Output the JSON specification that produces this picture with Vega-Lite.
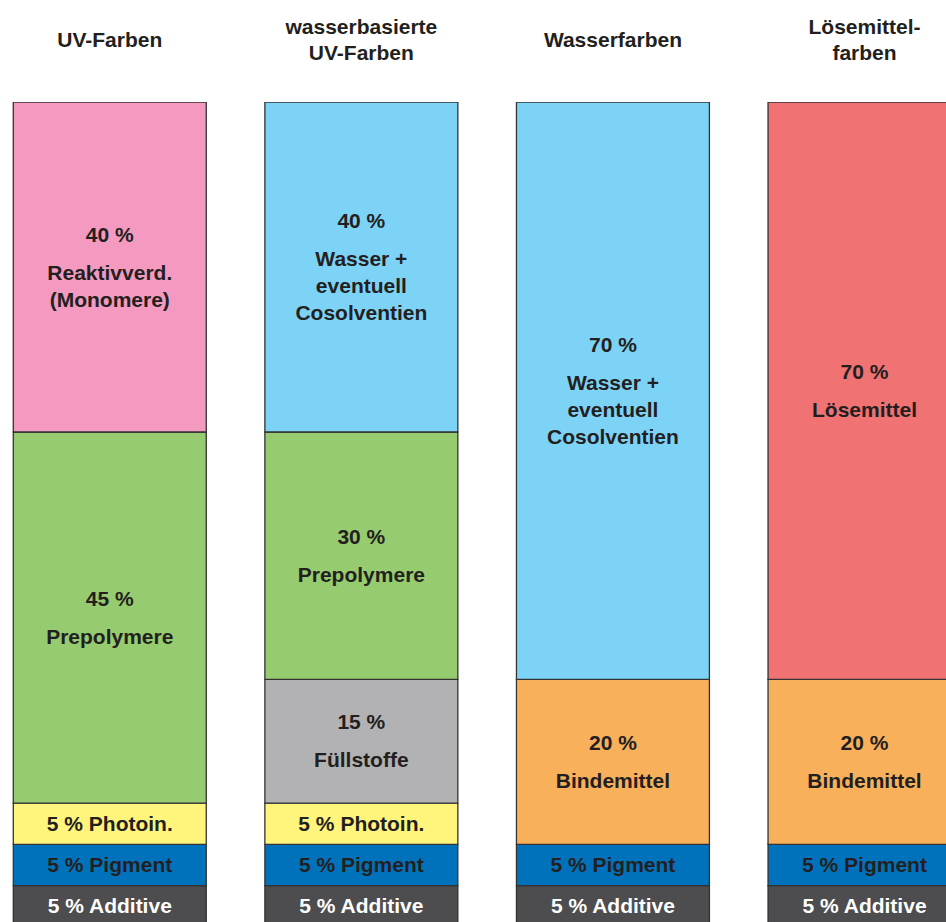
{
  "$schema": "https://vega.github.io/schema/vega-lite/v6.json",
  "autosize": "none",
  "padding": {"top": 102, "left": 0, "right": 0, "bottom": 0},
  "width": 946,
  "height": 820,
  "background": "white",
  "config": {"view": {"stroke": null}, "font": "Liberation Sans"},
  "data": {"values": [
    {"ink": "UV-Farben", "comp": "Additive", "value": 5, "order": 1, "pct": "5 % Additive", "name": null},
    {"ink": "UV-Farben", "comp": "Pigment", "value": 5, "order": 2, "pct": "5 % Pigment", "name": null},
    {"ink": "UV-Farben", "comp": "Photoinitiator", "value": 5, "order": 3, "pct": "5 % Photoin.", "name": null},
    {"ink": "UV-Farben", "comp": "Prepolymere", "value": 45, "order": 4, "pct": "45 %", "name": "Prepolymere"},
    {"ink": "UV-Farben", "comp": "Reaktivverdünner", "value": 40, "order": 5, "pct": "40 %", "name": "Reaktivverd.\n(Monomere)"},
    {"ink": "wasserbasierte UV-Farben", "comp": "Additive", "value": 5, "order": 1, "pct": "5 % Additive", "name": null},
    {"ink": "wasserbasierte UV-Farben", "comp": "Pigment", "value": 5, "order": 2, "pct": "5 % Pigment", "name": null},
    {"ink": "wasserbasierte UV-Farben", "comp": "Photoinitiator", "value": 5, "order": 3, "pct": "5 % Photoin.", "name": null},
    {"ink": "wasserbasierte UV-Farben", "comp": "Füllstoffe", "value": 15, "order": 4, "pct": "15 %", "name": "Füllstoffe"},
    {"ink": "wasserbasierte UV-Farben", "comp": "Prepolymere", "value": 30, "order": 5, "pct": "30 %", "name": "Prepolymere"},
    {"ink": "wasserbasierte UV-Farben", "comp": "Wasser", "value": 40, "order": 6, "pct": "40 %", "name": "Wasser +\neventuell\nCosolventien"},
    {"ink": "Wasserfarben", "comp": "Additive", "value": 5, "order": 1, "pct": "5 % Additive", "name": null},
    {"ink": "Wasserfarben", "comp": "Pigment", "value": 5, "order": 2, "pct": "5 % Pigment", "name": null},
    {"ink": "Wasserfarben", "comp": "Bindemittel", "value": 20, "order": 3, "pct": "20 %", "name": "Bindemittel"},
    {"ink": "Wasserfarben", "comp": "Wasser", "value": 70, "order": 4, "pct": "70 %", "name": "Wasser +\neventuell\nCosolventien"},
    {"ink": "Lösemittel- farben", "comp": "Additive", "value": 5, "order": 1, "pct": "5 % Additive", "name": null},
    {"ink": "Lösemittel- farben", "comp": "Pigment", "value": 5, "order": 2, "pct": "5 % Pigment", "name": null},
    {"ink": "Lösemittel- farben", "comp": "Bindemittel", "value": 20, "order": 3, "pct": "20 %", "name": "Bindemittel"},
    {"ink": "Lösemittel- farben", "comp": "Lösemittel", "value": 70, "order": 4, "pct": "70 %", "name": "Lösemittel"}
  ]},
  "transform": [
    {"stack": "value", "groupby": ["ink"], "sort": [{"field": "order", "order": "ascending"}], "as": ["v0", "v1"]}
  ],
  "encoding": {
    "x": {
      "field": "ink", "type": "nominal",
      "sort": ["UV-Farben", "wasserbasierte UV-Farben", "Wasserfarben", "Lösemittel- farben"],
      "scale": {"range": [13.3, 961], "paddingInner": 0.233, "paddingOuter": 0},
      "axis": {
        "orient": "top", "title": null, "domain": false, "ticks": false, "tickSize": 0, "grid": false,
        "labelPadding": 62,
        "labelBaseline": {"condition": {"test": "indexof(datum.label, ' ') >= 0", "value": "line-bottom"}, "value": "middle"},
        "labelAngle": 0,
        "labelFont": "Liberation Sans", "labelFontSize": 21, "labelFontWeight": "bold",
        "labelColor": "#231F20", "labelLineHeight": 26, "labelLimit": 400,
        "labelOverlap": false, "labelBound": false,
        "labelExpr": "split(datum.label, ' ')"
      }
    }
  },
  "layer": [
    {
      "mark": {"type": "bar", "stroke": "#333333", "strokeWidth": 1.3, "clip": true},
      "encoding": {
        "y": {"field": "v0", "type": "quantitative", "scale": {"domain": [0.6, 100], "nice": false, "zero": false}, "axis": null},
        "y2": {"field": "v1"},
        "color": {
          "field": "comp", "type": "nominal", "legend": null,
          "scale": {
            "domain": ["Additive", "Pigment", "Photoinitiator", "Prepolymere", "Reaktivverdünner", "Füllstoffe", "Wasser", "Bindemittel", "Lösemittel"],
            "range": ["#4D4D4F", "#0072BC", "#FFF57C", "#96CB6F", "#F49AC1", "#B2B2B4", "#7DD3F6", "#F9B05B", "#F07273"]
          }
        }
      }
    },
    {
      "transform": [
        {"filter": "datum.name != null"},
        {"fold": ["v0", "v1"], "as": ["edge", "pos"]},
        {"aggregate": [{"op": "mean", "field": "pos", "as": "mid"}], "groupby": ["ink", "comp", "pct", "name"]}
      ],
      "encoding": {
        "y": {"field": "mid", "type": "quantitative", "scale": {"domain": [0.6, 100], "nice": false, "zero": false}, "axis": null}
      },
      "layer": [
        {
          "transform": [{"filter": "length(split(datum.name, '\\n')) == 1"}],
          "mark": {"type": "text", "font": "Liberation Sans", "fontSize": 21, "fontWeight": "bold", "baseline": "middle", "align": "center", "dy": -18, "color": "#231F20"},
          "encoding": {"text": {"field": "pct"}}
        },
        {
          "transform": [{"filter": "length(split(datum.name, '\\n')) == 1"}],
          "mark": {"type": "text", "font": "Liberation Sans", "fontSize": 21, "fontWeight": "bold", "baseline": "middle", "align": "center", "lineHeight": 27, "lineBreak": "\n", "dy": 20, "color": "#231F20"},
          "encoding": {"text": {"field": "name"}}
        },
        {
          "transform": [{"filter": "length(split(datum.name, '\\n')) == 2"}],
          "mark": {"type": "text", "font": "Liberation Sans", "fontSize": 21, "fontWeight": "bold", "baseline": "middle", "align": "center", "dy": -31, "color": "#231F20"},
          "encoding": {"text": {"field": "pct"}}
        },
        {
          "transform": [{"filter": "length(split(datum.name, '\\n')) == 2"}],
          "mark": {"type": "text", "font": "Liberation Sans", "fontSize": 21, "fontWeight": "bold", "baseline": "middle", "align": "center", "lineHeight": 27, "lineBreak": "\n", "dy": 7, "color": "#231F20"},
          "encoding": {"text": {"field": "name"}}
        },
        {
          "transform": [{"filter": "length(split(datum.name, '\\n')) == 3"}],
          "mark": {"type": "text", "font": "Liberation Sans", "fontSize": 21, "fontWeight": "bold", "baseline": "middle", "align": "center", "dy": -45, "color": "#231F20"},
          "encoding": {"text": {"field": "pct"}}
        },
        {
          "transform": [{"filter": "length(split(datum.name, '\\n')) == 3"}],
          "mark": {"type": "text", "font": "Liberation Sans", "fontSize": 21, "fontWeight": "bold", "baseline": "middle", "align": "center", "lineHeight": 27, "lineBreak": "\n", "dy": -7, "color": "#231F20"},
          "encoding": {"text": {"field": "name"}}
        }
      ]
    },
    {
      "transform": [
        {"filter": "datum.name == null"},
        {"fold": ["v0", "v1"], "as": ["edge", "pos"]},
        {"aggregate": [{"op": "mean", "field": "pos", "as": "mid"}], "groupby": ["ink", "comp", "pct"]}
      ],
      "mark": {"type": "text", "font": "Liberation Sans", "fontSize": 21, "fontWeight": "bold", "baseline": "middle", "align": "center", "dy": 1},
      "encoding": {
        "y": {"field": "mid", "type": "quantitative", "scale": {"domain": [0.6, 100], "nice": false, "zero": false}, "axis": null},
        "text": {"field": "pct"},
        "color": {"condition": {"test": "datum.comp == 'Additive'", "value": "#FFFFFF"}, "value": "#231F20"}
      }
    }
  ]
}
